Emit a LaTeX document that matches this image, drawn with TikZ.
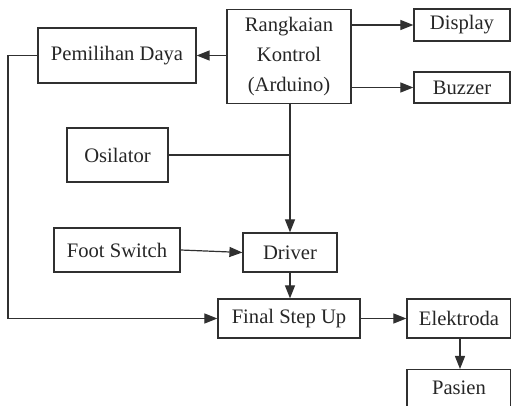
\documentclass[tikz,border=0pt]{standalone}
\usepackage{fontspec}
\setmainfont{Liberation Serif}
\usetikzlibrary{arrows.meta}
\definecolor{ln}{HTML}{303030}
\begin{document}
\begin{tikzpicture}[x=0.5pt,y=-0.5pt,
  box/.style={draw=ln,line width=0.6pt,inner sep=0pt,align=center,text=black!85,
    font=\fontsize{10.3}{12.6}\selectfont},
  arr/.style={draw=ln,line width=0.6pt,-{Triangle[length=6.5pt,width=5pt]}},
  ln/.style={draw=ln,line width=0.6pt}]
\useasboundingbox (0,0) rectangle (511,406);
\node[box,minimum width=62pt,minimum height=47pt,font=\fontsize{10.3}{15.2}\selectfont] (ctrl) at (289,56.5) {Rangkaian\\Kontrol\\(Arduino)};
\node[box,minimum width=48pt,minimum height=16pt] (disp) at (462,25) {Display};
\node[box,minimum width=48pt,minimum height=15.5pt] (buzz) at (462,87.5) {Buzzer};
\node[box,minimum width=79pt,minimum height=27.5pt] (pem) at (117,55.5) {Pemilihan Daya};
\node[box,minimum width=50.5pt,minimum height=27pt] (osc) at (117.5,155) {Osilator};
\node[box,minimum width=63pt,minimum height=22pt] (foot) at (117,250) {Foot Switch};
\node[box,minimum width=47pt,minimum height=19.5pt] (drv) at (290,252.5) {Driver};
\node[box,minimum width=71pt,minimum height=19.5pt] (fsu) at (289,318.5) {Final Step Up};
\node[box,minimum width=52pt,minimum height=19.5pt] (elek) at (459,318.5) {Elektroda};
\node[box,minimum width=52pt,minimum height=21pt,anchor=north] (pas) at (459,369) {\raisebox{3pt}{Pasien}};
\coordinate (lft) at (8,318.5);
\coordinate (jn) at (290,103);
\draw[arr] (ctrl.west |- pem.east) -- (pem.east);
\draw[arr] (ctrl.east |- disp.west) -- (disp.west);
\draw[arr] (ctrl.east |- buzz.west) -- (buzz.west);
\draw[arr] (pem.west) -| (lft) -- (fsu.west);
\draw[arr] (jn) -- (jn |- drv.north);
\draw[ln] (osc.east) -- (jn |- osc.east);
\draw[arr] (foot.east) -- (drv.west);
\draw[arr] (drv.south) -- (drv.south |- fsu.north);
\draw[arr] (fsu.east) -- (elek.west);
\draw[arr] (elek.south) ++(1,0) coordinate (es) (es) -- (es |- pas.north);
\end{tikzpicture}
\end{document}
